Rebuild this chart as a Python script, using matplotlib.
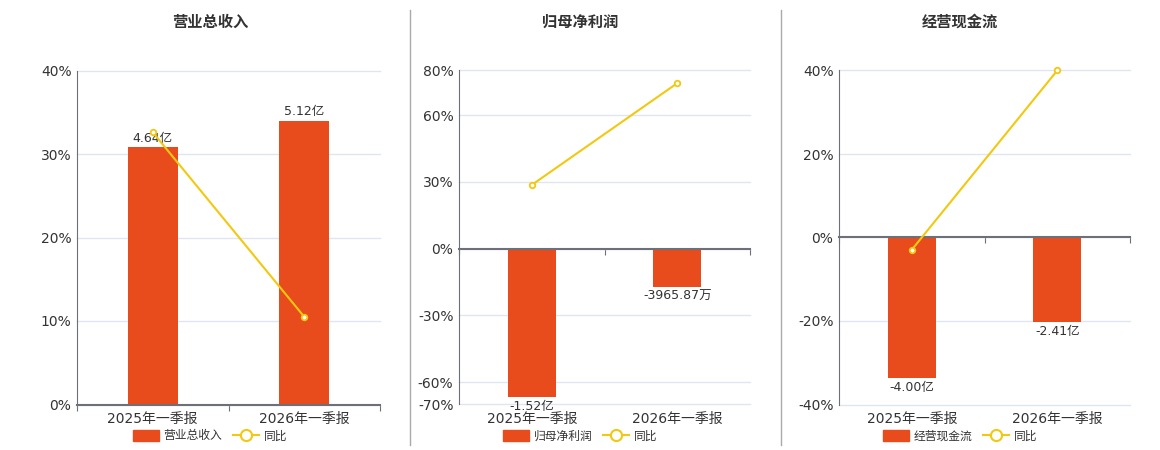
import matplotlib.pyplot as plt
from matplotlib.lines import Line2D
from matplotlib.patches import Patch
from matplotlib.ticker import FuncFormatter

plt.rcParams['font.family'] = ['DejaVu Sans', 'Noto Sans CJK SC']

# data
periods = ['2025年一季报', '2026年一季报']
titles = ['营业总收入', '归母净利润', '经营现金流']

revenue = [4.64, 5.12]            # 亿
revenue_yoy = [32.6, 10.5]        # %
profit = [-1.52, -0.396587]       # 亿
profit_yoy = [28.6, 74.3]
cashflow = [-4.00, -2.41]
cashflow_yoy = [-2.95, 40.0]

bar_texts = [['4.64亿', '5.12亿'],
             ['-1.52亿', '-3965.87万'],
             ['-4.00亿', '-2.41亿']]
pct_ticks = [[0, 10, 20, 30, 40],
             [-70, -60, -30, 0, 30, 60, 80],
             [-40, -20, 0, 20, 40]]

bars_all = [revenue, profit, cashflow]
yoy_all = [revenue_yoy, profit_yoy, cashflow_yoy]

# layout (pixels of a 1160x450 canvas)
W, H = 1160, 450
axes_px = [(77, 380), (459, 750), (839, 1130)]
top_px, bot_px = 70.5, 404.5
centers_px = [210, 580, 960]
bar_scale = [0.1507, 0.0228, 0.119]   # 亿 per % on the hidden bar axis

BAR = '#E84B1C'
LINE = '#F2C811'
TXT = '#333333'
AXC = '#6E7079'
GRID = '#E0E6F1'

fig = plt.figure(figsize=(11.6, 4.5), dpi=100)

for i in range(3):
    l, r = axes_px[i]
    ax = fig.add_axes([l / W, 1 - bot_px / H, (r - l) / W, (bot_px - top_px) / H])
    lo, hi = pct_ticks[i][0], pct_ticks[i][-1]
    k = bar_scale[i]

    # bar axis (hidden scale, carries grid)
    ax.set_xlim(-0.5, 1.5)
    ax.set_ylim(lo * k, hi * k)
    ax.set_yticks([t * k for t in pct_ticks[i]])
    ax.yaxis.grid(True, color=GRID, linewidth=1)
    for g in ax.yaxis.get_gridlines():
        g.set_clip_on(False)
    ax.set_axisbelow(True)
    ax.tick_params(axis='y', length=0, labelleft=False)
    for s in ['top', 'right']:
        ax.spines[s].set_visible(False)
    ax.spines['left'].set_color(AXC)
    ax.spines['bottom'].set_position(('data', 0))
    ax.spines['bottom'].set_color(AXC)
    ax.spines['bottom'].set_linewidth(1.5)
    ax.set_xticks([-0.5, 0.5, 1.5], labels=['', '', ''])
    ax.tick_params(axis='x', length=4, color=AXC, direction='out')

    bars = ax.bar(range(len(periods)), bars_all[i], width=0.33, color=BAR, zorder=2)
    ax.bar_label(bars, labels=bar_texts[i], padding=2, fontsize=9, color=TXT)

    sec = ax.secondary_xaxis('bottom')
    sec.set_xticks(range(len(periods)), labels=periods)
    sec.tick_params(length=0, pad=5, labelsize=10, labelcolor=TXT)
    sec.spines['bottom'].set_visible(False)

    # yoy axis
    ax2 = ax.twinx()
    ax2.set_ylim(lo, hi)
    ax2.set_yticks(pct_ticks[i])
    ax2.yaxis.set_major_formatter(FuncFormatter(lambda v, p: f'{v:.0f}%'))
    ax2.yaxis.tick_left()
    ax2.tick_params(axis='y', length=0, pad=4, labelsize=10, labelcolor=TXT)
    for s in ax2.spines.values():
        s.set_visible(False)
    ax2.plot(range(len(periods)), yoy_all[i], color=LINE, linewidth=1.5,
             marker='o', markersize=4, markerfacecolor='white',
             markeredgecolor=LINE, markeredgewidth=1.3, zorder=3, clip_on=False)

    fig.text(centers_px[i] / W, 1 - 22 / H, titles[i], ha='center', va='center',
             fontsize=11, fontweight='bold', color=TXT, family='Noto Sans CJK SC')

    handles = [Patch(facecolor=BAR, edgecolor=BAR),
               Line2D([], [], color=LINE, linewidth=1.5, marker='o', markersize=8,
                      markerfacecolor='white', markeredgecolor=LINE, markeredgewidth=1.5)]
    fig.legend(handles, [titles[i], '同比'], loc='center',
               bbox_to_anchor=(centers_px[i] / W, 1 - 436 / H), ncol=2,
               frameon=False, fontsize=8.5, handlelength=2.2, handleheight=1.1,
               columnspacing=0.9, handletextpad=0.4, labelcolor=TXT)

# panel separators
for x in [410, 781]:
    fig.add_artist(Line2D([x / W, x / W], [1 - 445 / H, 1 - 10 / H],
                          color='#AAAAAA', linewidth=1))

fig.savefig('out.png', dpi=100)
